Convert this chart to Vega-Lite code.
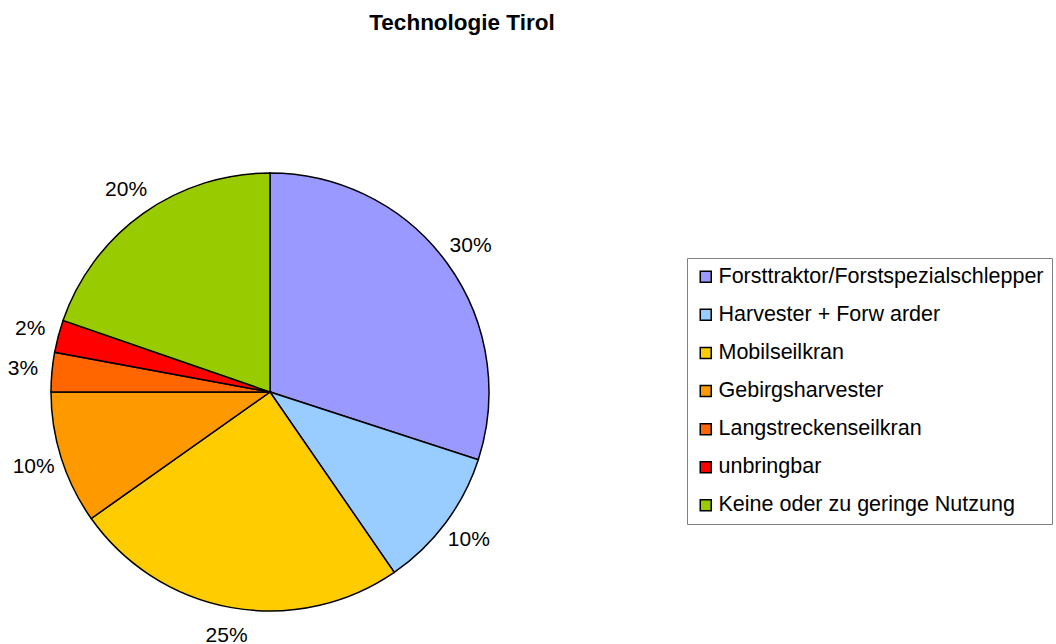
{
  "$schema": "https://vega.github.io/schema/vega-lite/v6.json",
  "autosize": "none",
  "width": 540,
  "height": 440,
  "padding": {"left": 0, "top": 172, "right": 516, "bottom": 32},
  "background": "white",
  "title": {
    "text": "Technologie Tirol",
    "font": "Liberation Sans",
    "fontSize": 22.5,
    "fontWeight": "bold",
    "color": "black",
    "anchor": "middle",
    "limit": 1000,
    "dx": 192,
    "offset": 136
  },
  "data": {
    "values": [
      {"idx": 1, "kategorie": "Forsttraktor/Forstspezialschlepper", "anteil": 30.0, "label": "30%"},
      {"idx": 2, "kategorie": "Harvester + Forw arder", "anteil": 10.4, "label": "10%"},
      {"idx": 3, "kategorie": "Mobilseilkran", "anteil": 24.8, "label": "25%"},
      {"idx": 4, "kategorie": "Gebirgsharvester", "anteil": 9.8, "label": "10%"},
      {"idx": 5, "kategorie": "Langstreckenseilkran", "anteil": 2.9, "label": "3%"},
      {"idx": 6, "kategorie": "unbringbar", "anteil": 2.4, "label": "2%"},
      {"idx": 7, "kategorie": "Keine oder zu geringe Nutzung", "anteil": 19.7, "label": "20%"}
    ]
  },
  "encoding": {
    "theta": {"field": "anteil", "type": "quantitative", "stack": true},
    "order": {"field": "idx", "type": "quantitative"}
  },
  "layer": [
    {
      "mark": {"type": "arc", "outerRadius": 219, "stroke": "black", "strokeWidth": 1.5},
      "encoding": {
        "color": {
          "field": "kategorie",
          "type": "nominal",
          "scale": {
            "domain": ["Forsttraktor/Forstspezialschlepper", "Harvester + Forw arder", "Mobilseilkran", "Gebirgsharvester", "Langstreckenseilkran", "unbringbar", "Keine oder zu geringe Nutzung"],
            "range": ["#9999FF", "#99CCFF", "#FFCC00", "#FF9900", "#FF6600", "#FF0000", "#99CC00"]
          },
          "legend": {
            "title": null,
            "orient": "none",
            "legendX": 687,
            "legendY": 86,
            "symbolType": "square",
            "symbolSize": 121,
            "symbolStrokeColor": "black",
            "symbolStrokeWidth": 1.5,
            "symbolOpacity": 1,
            "labelFont": "Liberation Sans",
            "labelFontSize": 21.5,
            "labelColor": "black",
            "labelOffset": 2,
            "labelLimit": 500,
            "rowPadding": 15.1,
            "padding": 8,
            "strokeColor": "#808080",
            "fillColor": "white"
          }
        }
      }
    },
    {
      "mark": {"type": "text", "radius": 248, "font": "Liberation Sans", "fontSize": 21, "color": "black", "align": "center", "baseline": "middle"},
      "encoding": {
        "text": {"field": "label", "type": "nominal"}
      }
    }
  ],
  "config": {"view": {"stroke": null}}
}
